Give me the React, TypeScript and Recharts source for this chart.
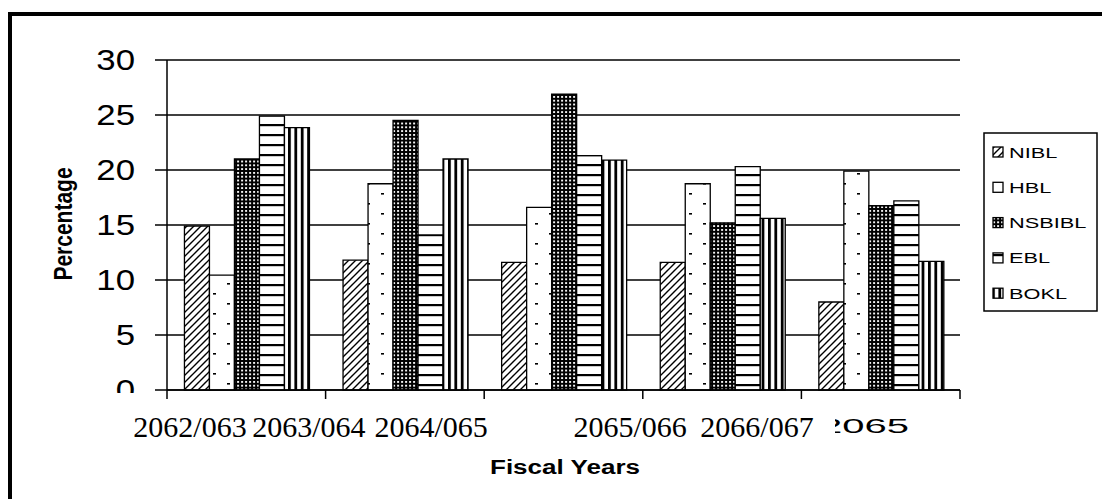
import React from "react";
import { BarChart, Bar, XAxis, YAxis, CartesianGrid } from "recharts";

const years = ["2062/063", "2063/064", "2064/065", "2065/066", "2066/067"];
const nibl = [14.9, 11.8, 11.6, 11.6, 8.0];
const hbl = [10.45, 18.75, 16.6, 18.75, 19.9];
const nsbibl = [21.0, 24.5, 26.9, 15.2, 16.75];
const ebl = [24.9, 14.1, 21.3, 20.3, 17.2];
const bokl = [23.85, 21.0, 20.9, 15.6, 11.7];
const yTicks = [0, 5, 10, 15, 20, 25, 30];
const xLabels = ["2062/063", "2063/064", "2064/065", "2065/066", "2066/067", "2065"];

// the year labels were pasted on top and don't sit under the groups;
// offsets are in category widths from the left edge of the plot
const xLabelSlots = [0.145, 0.895, 1.665, 2.92, 3.72, 4.47];

const X_AXIS_H = 40;
const MARGIN = { top: 60, right: 142, bottom: 109 - X_AXIS_H, left: 107 };
const Y_AXIS_W = 60;
const CHART_W = 1102;
const CHART_H = 499;
const BAND = (CHART_W - MARGIN.left - Y_AXIS_W - MARGIN.right) / years.length;

const series = [
  { key: "NIBL", values: nibl, fill: "url(#pNIBL)" },
  { key: "HBL", values: hbl, fill: "url(#pHBL)" },
  { key: "NSBIBL", values: nsbibl, fill: "url(#pNSB)" },
  { key: "EBL", values: ebl, fill: "url(#pEBL)" },
  { key: "BOKL", values: bokl, fill: "url(#pBOKL)" },
];

const data = years.map((year, i) => {
  const row: any = { year };
  series.forEach((s) => (row[s.key] = s.values[i]));
  return row;
});

const SANS = "'Liberation Sans', Arial, Helvetica, sans-serif";
const SERIF = "'Liberation Serif', 'Times New Roman', serif";

function Patterns() {
  return (
    <svg width={0} height={0} style={{ position: "absolute" }}>
      <defs>
        <pattern id="pNIBL" patternUnits="userSpaceOnUse" width={7} height={7}>
          <rect width={7} height={7} fill="#fff" />
          <path d="M0,7 L7,0 M-1,1 L1,-1 M6,8 L8,6" stroke="#000" strokeWidth={1.4} />
        </pattern>
        <pattern id="pHBL" patternUnits="userSpaceOnUse" width={28} height={20}>
          <rect width={28} height={20} fill="#fff" />
          <rect x={3} y={3} width={3} height={1.6} fill="#000" />
          <rect x={17} y={13} width={3} height={1.6} fill="#000" />
        </pattern>
        <pattern id="pNSB" patternUnits="userSpaceOnUse" width={4} height={3.8}>
          <rect width={4} height={3.8} fill="#000" />
          <rect x={1.1} y={1} width={2} height={1.8} fill="#fff" />
        </pattern>
        <pattern id="pEBL" patternUnits="userSpaceOnUse" width={10} height={10}>
          <rect width={10} height={10} fill="#fff" />
          <rect y={4} width={10} height={2.2} fill="#000" />
        </pattern>
        <pattern id="pBOKL" patternUnits="userSpaceOnUse" width={6.4} height={6}>
          <rect width={6.4} height={6} fill="#fff" />
          <rect x={0} width={2.8} height={6} fill="#000" />
        </pattern>
        <clipPath id="clipAboveAxis" clipPathUnits="userSpaceOnUse">
          <rect x={0} y={0} width={1102} height={393} />
        </clipPath>
        <clipPath id="clipLastLabel" clipPathUnits="userSpaceOnUse">
          <rect x={835} y={380} width={200} height={80} />
        </clipPath>
      </defs>
    </svg>
  );
}

function YTick(props: any) {
  const { x, y, payload } = props;
  return (
    <g clipPath="url(#clipAboveAxis)">
      <text
        transform={`translate(${x},${y}) scale(1.2,1)`}
        textAnchor="end"
        dy="0.36em"
        fontSize={29}
        fontFamily={SANS}
        fill="#000"
      >
        {payload.value}
      </text>
    </g>
  );
}

function YearLabel({ cx, y, idx }: { cx: number; y: number; idx: number }) {
  const text = xLabels[idx];
  if (idx === xLabels.length - 1) {
    return (
      <g clipPath="url(#clipLastLabel)">
        <text
          transform={`translate(${cx + 33},${y + 43}) scale(2,1)`}
          textAnchor="end"
          fontSize={20}
          fontFamily={SANS}
          fill="#000"
        >
          {text}
        </text>
      </g>
    );
  }
  return (
    <text x={cx} y={y + 47} textAnchor="middle" fontSize={30} fontFamily={SERIF} fill="#000">
      {text}
    </text>
  );
}

// category tick: draws the group edge tick marks and the pasted year labels
function XTick(props: any) {
  const { x, index } = props;
  const y = MARGIN.top + (CHART_H - MARGIN.top - MARGIN.bottom - X_AXIS_H);
  const left = x - BAND / 2;
  const last = index === years.length - 1;
  const labels = xLabelSlots
    .map((slot, k) => ({ slot, k }))
    .filter(({ slot }) => Math.floor(slot) === index || (last && slot >= years.length));
  return (
    <g>
      <line x1={left} y1={y} x2={left} y2={y + 9} stroke="#000" strokeWidth={1.5} />
      {last && (
        <line x1={left + BAND} y1={y} x2={left + BAND} y2={y + 9} stroke="#000" strokeWidth={1.5} />
      )}
      {labels.map(({ slot, k }) => (
        <YearLabel key={k} cx={left + (slot - index) * BAND} y={y} idx={k} />
      ))}
    </g>
  );
}

export default function App() {
  const rowY = (i: number) => 152 + i * 35.3;
  return (
    <div
      style={{
        position: "absolute",
        left: 0,
        top: 0,
        width: CHART_W,
        height: CHART_H,
        overflow: "hidden",
        background: "#fff",
      }}
    >
      <Patterns />
      <div
        style={{
          position: "absolute",
          left: 8,
          top: 12,
          width: 1300,
          height: 700,
          borderTop: "4px solid #000",
          borderLeft: "4.5px solid #000",
        }}
      />
      <div style={{ position: "absolute", left: 0, top: 0 }}>
        <BarChart
          width={CHART_W}
          height={CHART_H}
          data={data}
          margin={MARGIN}
          barCategoryGap="11%"
          barGap={0}
        >
          <CartesianGrid vertical={false} stroke="#000" strokeWidth={1.3} />
          <XAxis
            dataKey="year"
            height={X_AXIS_H}
            interval={0}
            tickLine={false}
            tick={<XTick />}
            axisLine={{ stroke: "#000", strokeWidth: 1.5 }}
          />
          <YAxis
            width={Y_AXIS_W}
            domain={[0, 30]}
            ticks={yTicks}
            interval={0}
            tickSize={12}
            tickMargin={20}
            axisLine={{ stroke: "#000", strokeWidth: 1.5 }}
            tickLine={{ stroke: "#000", strokeWidth: 1.5 }}
            tick={<YTick />}
          />
          {series.map((s) => (
            <Bar
              key={s.key}
              dataKey={s.key}
              fill={s.fill}
              stroke="#000"
              strokeWidth={1.3}
              isAnimationActive={false}
            />
          ))}
        </BarChart>
      </div>
      <svg
        width={CHART_W}
        height={CHART_H}
        style={{ position: "absolute", left: 0, top: 0, pointerEvents: "none" }}
      >
        <text
          transform="translate(63,224) scale(1.2,1) rotate(-90)"
          textAnchor="middle"
          dy="0.35em"
          fontSize={21}
          fontWeight="bold"
          fontFamily={SANS}
          fill="#000"
        >
          Percentage
        </text>
        <text
          transform="translate(565,474) scale(1.24,1)"
          textAnchor="middle"
          fontSize={21}
          fontWeight="bold"
          fontFamily={SANS}
          fill="#000"
        >
          Fiscal Years
        </text>
        <rect x={984} y={133} width={113} height={178} fill="#fff" stroke="#000" strokeWidth={1.5} />
        {series.map((s, i) => (
          <g key={s.key}>
            <rect x={993} y={rowY(i) - 5} width={10} height={10} fill={s.fill} stroke="#000" strokeWidth={1.3} />
            <text
              transform={`translate(1009,${rowY(i) + 5.5}) scale(1.45,1)`}
              fontSize={15}
              fontFamily={SANS}
              fill="#000"
            >
              {s.key}
            </text>
          </g>
        ))}
      </svg>
    </div>
  );
}
